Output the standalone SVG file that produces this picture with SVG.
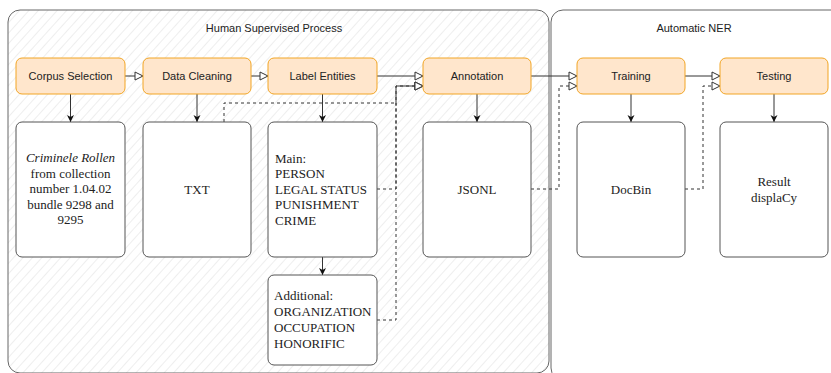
<svg xmlns="http://www.w3.org/2000/svg" width="831" height="373" viewBox="0 0 831 373">
<defs>
<pattern id="hatch" patternUnits="userSpaceOnUse" width="7" height="7" patternTransform="rotate(42)">
<line x1="0" y1="0" x2="0" y2="7" stroke="#dedede" stroke-width="1"/>
</pattern>
<marker id="open" markerUnits="userSpaceOnUse" markerWidth="10" markerHeight="10" viewBox="0 0 10 10" refX="9" refY="5" orient="auto">
<path d="M1,1 L9,5 L1,9 Z" fill="#fff" stroke="#333" stroke-width="1"/>
</marker>
<marker id="solid" markerUnits="userSpaceOnUse" markerWidth="8" markerHeight="8" viewBox="0 0 8 8" refX="7" refY="4" orient="auto">
<path d="M0,0.5 L7,4 L0,7.5 L2,4 Z" fill="#111"/>
</marker>
</defs>
<style>
.cont{stroke:#666;stroke-width:1}
.title{font-family:"Liberation Sans",Arial,sans-serif;font-size:11px;fill:#222;text-anchor:middle}
.proc rect{fill:#ffe6cc;stroke:#f2a524;stroke-width:1}
.proc text{font-family:"Liberation Sans",Arial,sans-serif;font-size:11px;fill:#222;text-anchor:middle}
.doc rect{fill:#fff;stroke:#555;stroke-width:1}
.doc text{font-family:"Liberation Serif","Times New Roman",serif;font-size:13px;fill:#222}
.c{text-anchor:middle}
.conn path{fill:none;stroke:#333;stroke-width:1}
.conn .d{stroke-dasharray:3 3}
.conn .o{marker-end:url(#open)}
.conn .s{marker-end:url(#solid)}
</style>
<rect width="831" height="373" fill="#fff"/>
<g id="human-supervised-process">
<rect class="cont" x="8" y="10" width="541" height="363" rx="12" fill="url(#hatch)"/>
<text class="title" x="274" y="32">Human Supervised Process</text>
</g>
<g id="automatic-ner">
<rect class="cont" x="551" y="10" width="300" height="370" rx="12" fill="#fff"/>
<text class="title" x="694" y="32">Automatic NER</text>
</g>
<g class="conn" id="connectors">
<path class="o" d="M125,76 H143"/>
<path class="o" d="M251,76 H268"/>
<path class="o" d="M377,76 H423"/>
<path class="o" d="M531,76 H577"/>
<path class="o" d="M685,76 H720"/>
<path class="s" d="M70.5,94 V122"/>
<path class="s" d="M197,94 V122"/>
<path class="s" d="M322.5,94 V122"/>
<path class="s" d="M477,94 V122"/>
<path class="s" d="M631,94 V122"/>
<path class="s" d="M774,94 V122"/>
<path class="s" d="M322.5,257 V275"/>
<path class="d o" d="M224,122 V103 H396 V86 H423"/>
<path class="d o" d="M377,189 H396 V86 H423"/>
<path class="d o" d="M377,320 H396 V86 H423"/>
<path class="d o" d="M531,189 H559 V86 H577"/>
<path class="d o" d="M685,189 H703 V86 H720"/>
</g>
<g id="corpus-selection" class="proc"><rect x="16" y="58" width="109" height="36" rx="6"/><text x="70.5" y="80">Corpus Selection</text></g>
<g id="data-cleaning" class="proc"><rect x="143" y="58" width="108" height="36" rx="6"/><text x="197" y="80">Data Cleaning</text></g>
<g id="label-entities" class="proc"><rect x="268" y="58" width="109" height="36" rx="6"/><text x="322.5" y="80">Label Entities</text></g>
<g id="annotation" class="proc"><rect x="423" y="58" width="108" height="36" rx="6"/><text x="477" y="80">Annotation</text></g>
<g id="training" class="proc"><rect x="577" y="58" width="108" height="36" rx="6"/><text x="631" y="80">Training</text></g>
<g id="testing" class="proc"><rect x="720" y="58" width="108" height="36" rx="6"/><text x="774" y="80">Testing</text></g>
<g id="corpus-doc" class="doc"><rect x="16" y="122" width="109" height="135" rx="6"/>
<text class="c" x="70.5" y="162"><tspan font-style="italic">Criminele Rollen</tspan></text>
<text class="c" x="70.5" y="177.5">from collection</text>
<text class="c" x="70.5" y="193">number 1.04.02</text>
<text class="c" x="70.5" y="208.5">bundle 9298 and</text>
<text class="c" x="70.5" y="224">9295</text>
</g>
<g id="txt-doc" class="doc"><rect x="143" y="122" width="108" height="135" rx="6"/><text class="c" x="197" y="193.5">TXT</text></g>
<g id="main-doc" class="doc"><rect x="268" y="122" width="109" height="135" rx="6"/>
<text x="275" y="162.5">Main:</text>
<text x="275" y="178">PERSON</text>
<text x="275" y="193.5">LEGAL STATUS</text>
<text x="275" y="209">PUNISHMENT</text>
<text x="275" y="224.5">CRIME</text>
</g>
<g id="additional-doc" class="doc"><rect x="268" y="275" width="109" height="90" rx="6"/>
<text x="274" y="300">Additional:</text>
<text x="274" y="316">ORGANIZATION</text>
<text x="274" y="332">OCCUPATION</text>
<text x="274" y="347.5">HONORIFIC</text>
</g>
<g id="jsonl-doc" class="doc"><rect x="423" y="122" width="108" height="135" rx="6"/><text class="c" x="477" y="193.5">JSONL</text></g>
<g id="docbin-doc" class="doc"><rect x="577" y="122" width="108" height="135" rx="6"/><text class="c" x="631" y="193.5">DocBin</text></g>
<g id="result-doc" class="doc"><rect x="720" y="122" width="108" height="135" rx="6"/>
<text class="c" x="774" y="185.5">Result</text>
<text class="c" x="774" y="202">displaCy</text>
</g>
</svg>
